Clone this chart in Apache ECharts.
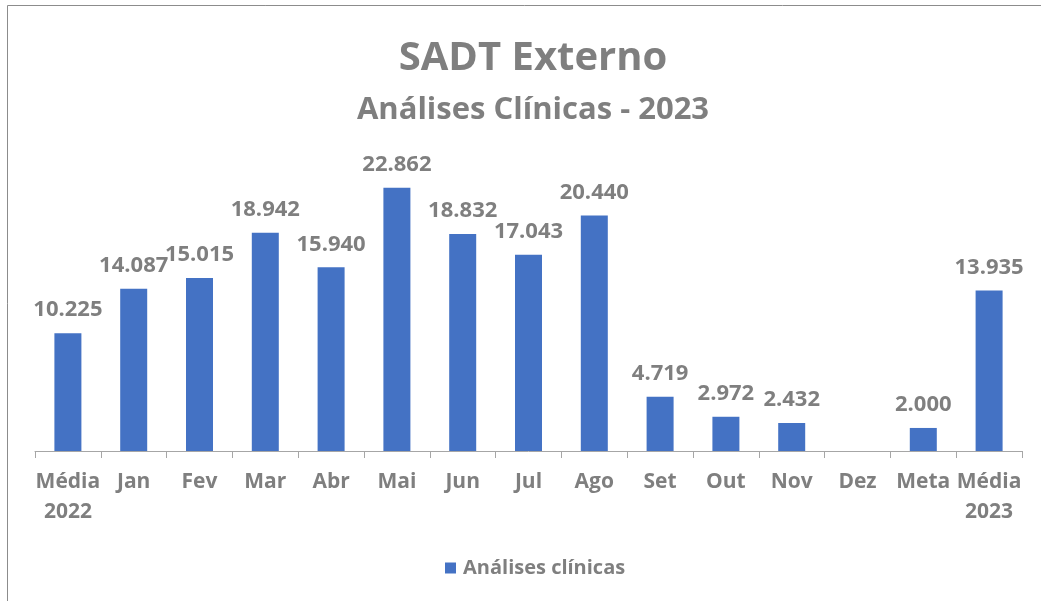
<!DOCTYPE html>
<html>
<head>
<meta charset="utf-8">
<script src="https://cdn.jsdelivr.net/npm/echarts@6/dist/echarts.min.js"></script>
<style>html,body{margin:0;padding:0;background:#fff}#c{width:1041px;height:601px}</style>
</head>
<body>
<div id="c"></div>
<script>
const categories = ['Média\n2022','Jan','Fev','Mar','Abr','Mai','Jun','Jul','Ago','Set','Out','Nov','Dez','Meta','Média\n2023'];
const values = [10225,14087,15015,18942,15940,22862,18832,17043,20440,4719,2972,2432,null,2000,13935];
const seriesName = 'Análises clínicas';
const titleText = 'SADT Externo';
const subtitleText = 'Análises Clínicas - 2023';

const gray = '#7f7f7f';
const font = 'Open Sans';
const fmt = v => v == null ? '' : String(v).replace(/\B(?=(\d{3})+(?!\d))/g, '.');

const chart = echarts.init(document.getElementById('c'), null, {renderer: 'canvas'});
chart.setOption({
  backgroundColor: '#fff',
  animation: false,
  title: [
    {text: titleText, left: 528, top: 54, textAlign: 'center', textVerticalAlign: 'middle',
     textStyle: {fontFamily: font, fontWeight: 'bold', fontSize: 40, color: gray}},
    {text: subtitleText, left: 528, top: 105, textAlign: 'center', textVerticalAlign: 'middle',
     textStyle: {fontFamily: font, fontWeight: 'bold', fontSize: 31, color: gray}}
  ],
  legend: {
    data: [seriesName], left: 440, top: 553, itemWidth: 11, itemHeight: 11, icon: 'rect',
    textStyle: {fontFamily: font, fontSize: 20, fontWeight: 'bold', color: gray, padding: [0, 0, 0, 2]}
  },
  grid: {left: 35, right: 19, top: 163, bottom: 150, containLabel: false},
  xAxis: {
    type: 'category', data: categories,
    axisLine: {lineStyle: {color: '#a6a6a6', width: 1}},
    axisTick: {show: true, length: 7, lineStyle: {color: '#a6a6a6'}},
    axisLabel: {fontFamily: font, fontSize: 21, fontWeight: 'bold', color: gray, margin: 16, lineHeight: 30, interval: 0}
  },
  yAxis: {type: 'value', min: 0, max: 25000, show: false, splitLine: {show: false}},
  series: [{
    name: seriesName, type: 'bar', data: values, barWidth: 27,
    itemStyle: {color: '#4472C4'},
    label: {show: true, position: 'top', distance: 12, fontFamily: font, fontSize: 22, fontWeight: 'bold', color: gray,
      formatter: p => fmt(p.value)}
  }],
  graphic: [
    {type: 'line', shape: {x1: 7.5, y1: 5.5, x2: 1041, y2: 5.5}, style: {stroke: '#8c8c8c', lineWidth: 1}},
    {type: 'line', shape: {x1: 7.5, y1: 5.5, x2: 7.5, y2: 601}, style: {stroke: '#8c8c8c', lineWidth: 1}}
  ]
});
</script>
</body>
</html>
